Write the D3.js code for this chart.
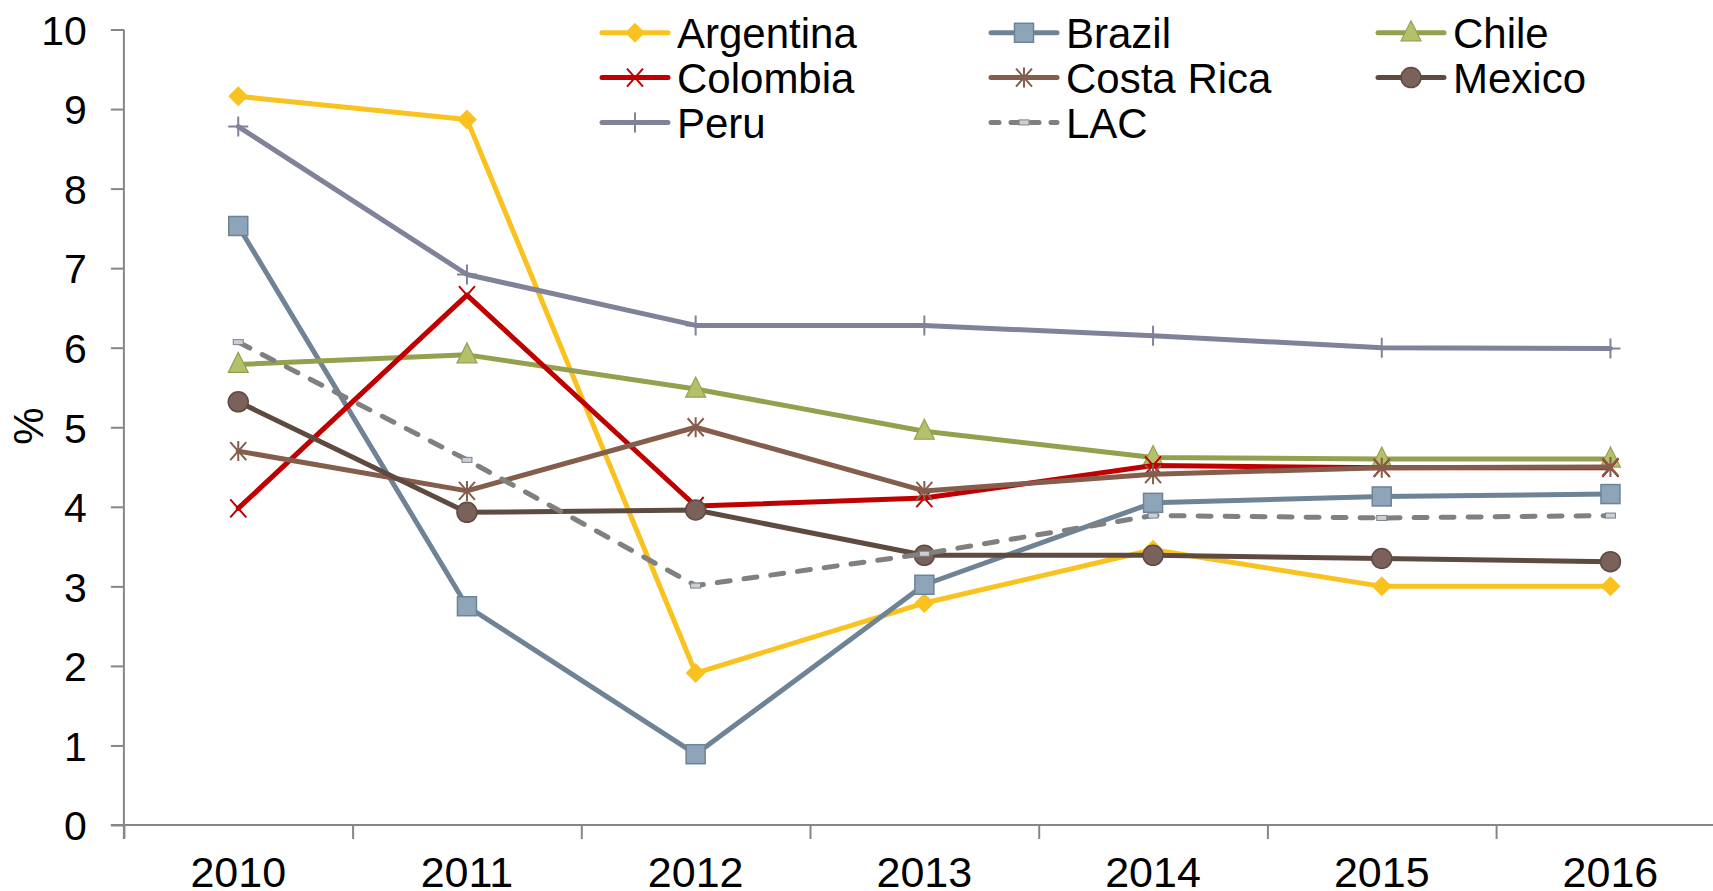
<!DOCTYPE html>
<html>
<head>
    <script src="https://d3js.org/d3.v7.min.js"></script>
    <style>
        body { margin: 0; background: white; overflow: hidden; }
        text { font-family: "Liberation Sans", Arial, sans-serif; fill: black; }
        .axis path, .axis line { stroke: #868686; stroke-width: 2px; }
    </style>
</head>
<body>
    <script>
        const years = ['2010', '2011', '2012', '2013', '2014', '2015', '2016'];
        const yTicks = [0, 1, 2, 3, 4, 5, 6, 7, 8, 9, 10];

        const argentina = [9.16, 8.87, 1.91, 2.79, 3.46, 3.00, 3.00];
        const brazil    = [7.53, 2.75, 0.89, 3.02, 4.05, 4.13, 4.16];
        const chile     = [5.79, 5.91, 5.48, 4.95, 4.62, 4.60, 4.60];
        const colombia  = [3.98, 6.66, 4.01, 4.11, 4.52, 4.49, 4.49];
        const costaRica = [4.70, 4.20, 5.00, 4.20, 4.41, 4.49, 4.50];
        const mexico    = [5.32, 3.93, 3.96, 3.39, 3.39, 3.35, 3.31];
        const peru      = [8.78, 6.92, 6.28, 6.28, 6.15, 6.00, 5.99];
        const lac       = [6.07, 4.59, 3.01, 3.41, 3.89, 3.86, 3.89];

        const series = [
            { name: 'Argentina', values: argentina, color: '#F9C21F', fill: '#F9C21F', marker: 'diamond' },
            { name: 'Brazil', values: brazil, color: '#6E8496', fill: '#8EA4B8', marker: 'square' },
            { name: 'Chile', values: chile, color: '#95A04F', fill: '#B6BF6A', marker: 'triangle' },
            { name: 'Colombia', values: colombia, color: '#C00000', fill: 'none', marker: 'x' },
            { name: 'Costa Rica', values: costaRica, color: '#845D4D', fill: 'none', marker: 'star' },
            { name: 'Mexico', values: mexico, color: '#5F4A42', fill: '#7A625A', marker: 'circle' },
            { name: 'Peru', values: peru, color: '#7F8299', fill: 'none', marker: 'plus' },
            { name: 'LAC', values: lac, color: '#808080', fill: '#C8D0DC', marker: 'dash', dashed: true }
        ];

        const width = 1713, height = 891;
        const left = 123.9, step = 228.7;

        const svg = d3.select('body').append('svg')
            .attr('width', width)
            .attr('height', height);

        const xb = d3.scaleLinear().domain([0, 7]).range([left, left + 7 * step]);
        const x = i => xb(i + 0.5);
        const y = d3.scaleLinear().domain([0, 10]).range([825, 29.5]);

        // y axis
        const yAxis = svg.append('g')
            .attr('class', 'axis')
            .attr('transform', `translate(${left},0)`)
            .call(d3.axisLeft(y).tickValues(yTicks).tickSize(13).tickPadding(24).tickSizeOuter(0));
        yAxis.selectAll('text').style('font-size', '41px').attr('dy', '0.36em');
        yAxis.select('.domain').attr('d', `M0,${y(10)}V${y(0) + 14}`);

        // x axis
        const xAxis = svg.append('g')
            .attr('class', 'axis')
            .attr('transform', `translate(0,${y(0)})`)
            .call(d3.axisBottom(xb).tickValues(d3.range(0, 8)).tickSize(14).tickFormat('').tickSizeOuter(0));
        xAxis.select('.domain').attr('d', `M${left - 13},0H${width + 20}`);

        svg.append('g').selectAll('text')
            .data(years)
            .enter().append('text')
            .attr('x', (d, i) => x(i))
            .attr('y', 887)
            .attr('text-anchor', 'middle')
            .style('font-size', '43px')
            .text(d => d);

        svg.append('text')
            .attr('transform', 'translate(43,426) rotate(-90)')
            .attr('text-anchor', 'middle')
            .style('font-size', '42px')
            .text('%');

        function drawMarker(g, s, cx, cy) {
            const m = s.marker;
            if (m === 'diamond') {
                g.append('path').attr('d', `M${cx},${cy - 10}L${cx + 10},${cy}L${cx},${cy + 10}L${cx - 10},${cy}Z`)
                    .attr('fill', s.fill);
            } else if (m === 'square') {
                g.append('rect').attr('x', cx - 9.5).attr('y', cy - 9.5).attr('width', 19).attr('height', 19)
                    .attr('fill', s.fill).attr('stroke', s.color).attr('stroke-width', 1.5);
            } else if (m === 'triangle') {
                g.append('path').attr('d', `M${cx},${cy - 12}L${cx + 10},${cy + 8}L${cx - 10},${cy + 8}Z`)
                    .attr('fill', s.fill).attr('stroke', s.color).attr('stroke-width', 1.2);
            } else if (m === 'x') {
                g.append('path').attr('d', `M${cx - 8},${cy - 9}L${cx + 8},${cy + 9}M${cx + 8},${cy - 9}L${cx - 8},${cy + 9}`)
                    .attr('stroke', s.color).attr('stroke-width', 2);
            } else if (m === 'star') {
                g.append('path').attr('d', `M${cx - 8},${cy - 9}L${cx + 8},${cy + 9}M${cx + 8},${cy - 9}L${cx - 8},${cy + 9}M${cx},${cy - 10}V${cy + 10}`)
                    .attr('stroke', s.color).attr('stroke-width', 2);
            } else if (m === 'circle') {
                g.append('circle').attr('cx', cx).attr('cy', cy).attr('r', 10)
                    .attr('fill', s.fill).attr('stroke', s.color).attr('stroke-width', 1.5);
            } else if (m === 'plus') {
                g.append('path').attr('d', `M${cx - 10},${cy}H${cx + 10}M${cx},${cy - 10}V${cy + 10}`)
                    .attr('stroke', s.color).attr('stroke-width', 2);
            } else if (m === 'dash') {
                g.append('rect').attr('x', cx - 5).attr('y', cy - 2.5).attr('width', 10).attr('height', 5)
                    .attr('fill', s.fill).attr('stroke', s.color).attr('stroke-width', 1);
            }
        }

        const line = d3.line().x((d, i) => x(i)).y(d => y(d));

        const plot = svg.append('g');
        series.forEach(s => {
            const g = plot.append('g');
            g.append('path')
                .datum(s.values)
                .attr('fill', 'none')
                .attr('stroke', s.color)
                .attr('stroke-width', 5)
                .attr('stroke-linejoin', 'round')
                .attr('stroke-linecap', 'round')
                .attr('stroke-dasharray', s.dashed ? '13,14' : null)
                .attr('d', line);
            s.values.forEach((v, i) => drawMarker(g, s, x(i), y(v)));
        });

        // legend
        const legend = svg.append('g');
        const colX = [602, 991, 1378];
        const rowY = [32.8, 77.6, 122.4];
        series.forEach((s, k) => {
            const lx = colX[k % 3], ly = rowY[Math.floor(k / 3)];
            const g = legend.append('g');
            g.append('line')
                .attr('x1', lx).attr('x2', lx + 66)
                .attr('y1', ly).attr('y2', ly)
                .attr('stroke', s.color)
                .attr('stroke-width', 5)
                .attr('stroke-linecap', 'round')
                .attr('stroke-dasharray', s.dashed ? '8,12' : null);
            drawMarker(g, s, lx + 33, ly);
            g.append('text')
                .attr('x', lx + 75)
                .attr('y', ly)
                .attr('dy', '0.36em')
                .style('font-size', '42px')
                .text(s.name);
        });
    </script>
</body>
</html>
